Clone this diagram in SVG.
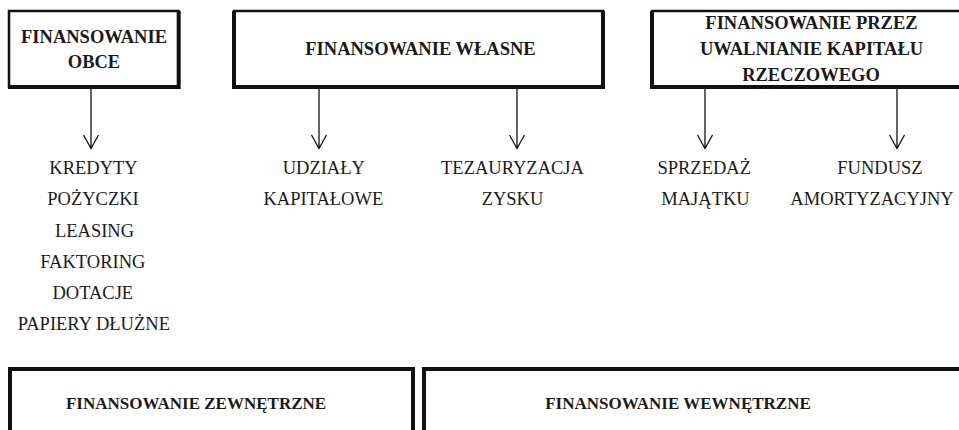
<svg xmlns="http://www.w3.org/2000/svg" width="959" height="430" viewBox="0 0 959 430">
<style>
.box{fill:#fff;stroke:#111;stroke-width:2.5}
.edge{stroke:#111;stroke-width:4;fill:none}
.big{fill:#fff;stroke:#111;stroke-width:4}
.hd{font-family:"Liberation Serif","Times New Roman",serif;font-weight:bold;font-size:18.5px;fill:#1a1a1a;text-anchor:middle}
.hb{font-family:"Liberation Serif","Times New Roman",serif;font-weight:bold;font-size:17px;fill:#1a1a1a;text-anchor:middle}
.it{font-family:"Liberation Serif","Times New Roman",serif;font-size:18.5px;fill:#1a1a1a;text-anchor:middle}
.conn{stroke:#111;stroke-width:1.3;fill:none}
</style>
<rect width="959" height="430" fill="#fff"/>
<g id="obce">
<rect class="box" x="9" y="11" width="169.5" height="76"/>
<path class="edge" d="M178.7 11 V87 H8"/>
<text class="hd" x="94" y="42.5">FINANSOWANIE</text>
<text class="hd" x="94" y="67.5">OBCE</text>
</g>
<g id="wlasne">
<rect class="box" x="234" y="11" width="369" height="76"/>
<path class="edge" d="M234 11 V87 H603 V11"/>
<text class="hd" x="420.5" y="55">FINANSOWANIE WŁASNE</text>
</g>
<g id="rzeczowy">
<rect class="box" x="652" y="11" width="320" height="76"/>
<path class="edge" d="M652 11 V87 H972"/>
<text class="hd" x="811.5" y="29.3">FINANSOWANIE PRZEZ</text>
<text class="hd" x="811.5" y="55">UWALNIANIE KAPITAŁU</text>
<text class="hd" x="811" y="80.5">RZECZOWEGO</text>
</g>
<g id="obce-items">
<text class="it" x="93.5" y="174.3">KREDYTY</text>
<text class="it" x="93" y="205.3">POŻYCZKI</text>
<text class="it" x="94.5" y="236.6">LEASING</text>
<text class="it" x="92.8" y="268">FAKTORING</text>
<text class="it" x="92.8" y="299.2">DOTACJE</text>
<text class="it" x="93.8" y="330.3">PAPIERY DŁUŻNE</text>
</g>
<g id="udzialy">
<text class="it" x="323.8" y="174.3">UDZIAŁY</text>
<text class="it" x="323.3" y="205.3">KAPITAŁOWE</text>
</g>
<g id="tezauryzacja">
<text class="it" x="512.5" y="174.3">TEZAURYZACJA</text>
<text class="it" x="512.5" y="205.3">ZYSKU</text>
</g>
<g id="sprzedaz">
<text class="it" x="704.2" y="174.3">SPRZEDAŻ</text>
<text class="it" x="705.5" y="205.3">MAJĄTKU</text>
</g>
<g id="fundusz">
<text class="it" x="880" y="174.3">FUNDUSZ</text>
<text class="it" x="872" y="205.3">AMORTYZACYJNY</text>
</g>
<g id="zewnetrzne">
<rect class="big" x="10" y="369" width="403" height="80"/>
<text class="hb" x="196" y="409">FINANSOWANIE ZEWNĘTRZNE</text>
</g>
<g id="wewnetrzne">
<rect class="big" x="424" y="369" width="545" height="80"/>
<text class="hb" x="678" y="409">FINANSOWANIE WEWNĘTRZNE</text>
</g>
<g id="connectors">
<path class="conn" d="M91 89 V148.5 M83.5 135 L91 148.5 L98.5 135"/>
<path class="conn" d="M319 89 V148.5 M311.5 135 L319 148.5 L326.5 135"/>
<path class="conn" d="M517 89 V148.5 M509.5 135 L517 148.5 L524.5 135"/>
<path class="conn" d="M705 89 V148.5 M697.5 135 L705 148.5 L712.5 135"/>
<path class="conn" d="M897 89 V148.5 M889.5 135 L897 148.5 L904.5 135"/>
</g>
</svg>
